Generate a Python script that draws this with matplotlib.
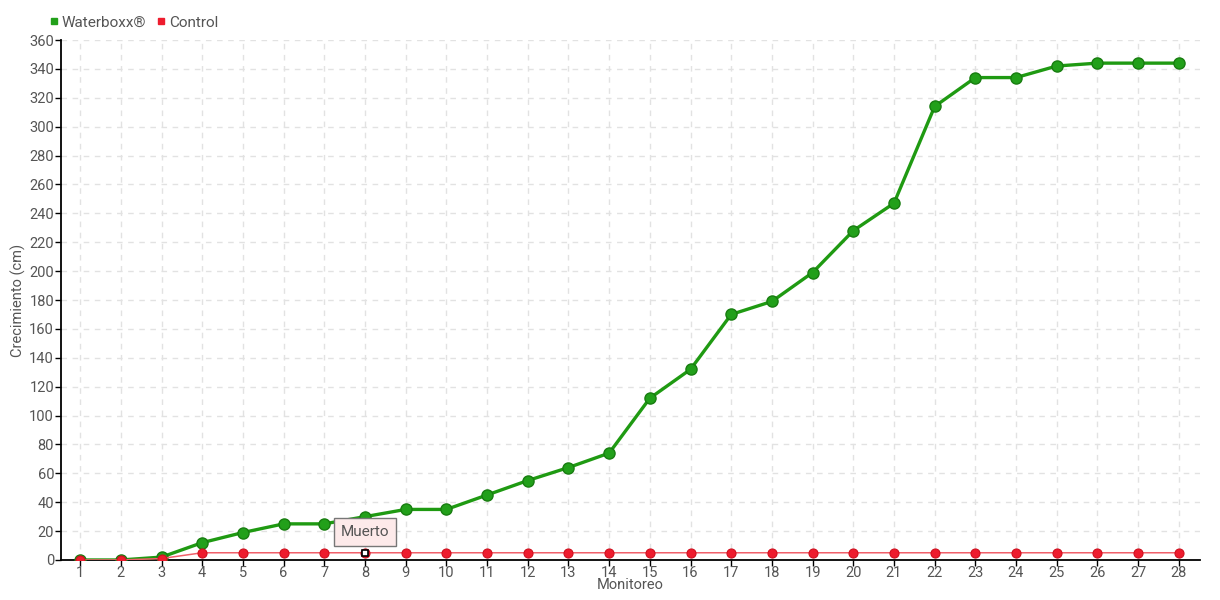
import matplotlib.pyplot as plt
from matplotlib.lines import Line2D

monitoreo = list(range(1, 29))
waterboxx = [0, 0, 2, 12, 19, 25, 25, 30, 35, 35, 45, 55, 64, 74, 112, 132,
             170, 179, 199, 228, 247, 314, 334, 334, 342, 344, 344, 344]
control = [0, 0, 1] + [5] * 25
muerto_idx = 7  # monitoreo 8

plt.rcParams['font.family'] = ['Roboto', 'DejaVu Sans']

fig = plt.figure(figsize=(12.2, 6), dpi=100)
ax = fig.add_axes([0.05, 0.0667, 0.9336, 0.8666])

verde = '#1f9a12'
rojo = '#ee1c2e'
gris = '#555555'

ax.plot(monitoreo, waterboxx, color=verde, lw=2.4, marker='o', ms=8,
        mfc='#22a01a', mec='#187d10', mew=1, zorder=3, label='Waterboxx®')
ax.plot(monitoreo, control, color='#f0606a', lw=1.1, marker='o', ms=6.5,
        mfc=rojo, mec='#d0101f', mew=0.8, zorder=4, label='Control')
ax.plot(monitoreo[muerto_idx], control[muerto_idx], marker='s', ms=5,
        mfc='white', mec='black', mew=1.2, ls='none', zorder=6)

ax.annotate('Muerto', xy=(monitoreo[muerto_idx], control[muerto_idx]),
            xytext=(0, 15), textcoords='offset points', ha='center', va='center',
            fontsize=11, color=gris,
            bbox=dict(boxstyle='square,pad=0.45', fc='#fdeaea', ec='#777777', lw=1),
            zorder=7)

ax.set_xlim(0.53, 28.52)
ax.set_ylim(0, 360)
ax.set_xticks(monitoreo)
ax.set_yticks(range(0, 361, 20))
ax.tick_params(labelcolor=gris, labelsize=10.5, length=4, width=1, color='black')
ax.tick_params(axis='x', pad=0)
ax.tick_params(axis='y', pad=1)
ax.grid(True, ls=(0, (4, 4)), color='#e2e2e2', lw=1)
ax.set_axisbelow(True)
for s in ['top', 'right']:
    ax.spines[s].set_visible(False)
ax.spines['left'].set_linewidth(1.3)
ax.spines['bottom'].set_linewidth(1.3)

ax.set_xlabel('Monitoreo', color=gris, fontsize=10.5)
ax.set_ylabel('Crecimiento (cm)', color=gris, fontsize=10.5)
ax.xaxis.set_label_coords(0.5, -0.034)
ax.yaxis.set_label_coords(-0.031, 0.5)

handles = [Line2D([], [], marker='s', ls='none', color='#22a01a', ms=5),
           Line2D([], [], marker='s', ls='none', color=rojo, ms=5)]
fig.legend(handles, ['Waterboxx®', 'Control'], loc='upper left',
           bbox_to_anchor=(0.028, 0.997), ncol=2, frameon=False,
           handletextpad=0.1, columnspacing=0.6, handlelength=0.8,
           labelcolor=gris, fontsize=11)

fig.savefig('out.png', dpi=100)
